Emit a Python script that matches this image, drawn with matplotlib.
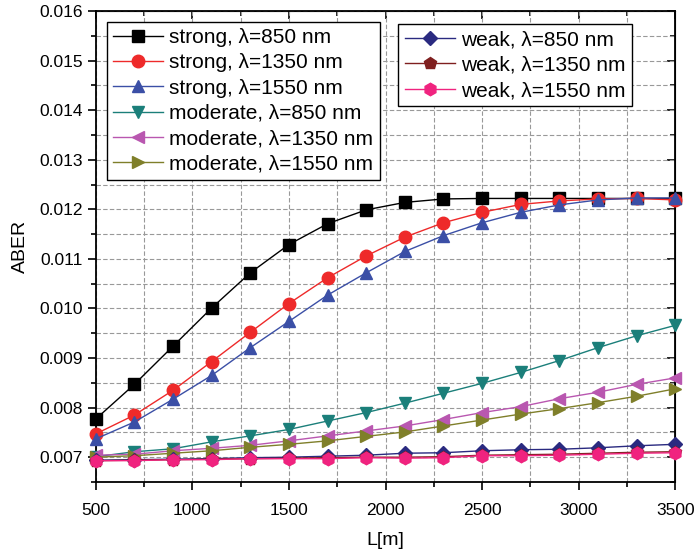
import matplotlib
matplotlib.use('Agg')
import matplotlib.pyplot as plt
import numpy as np

plt.rcParams['font.family'] = ['Liberation Sans', 'DejaVu Sans']

# Data
L = [500, 700, 900, 1100, 1300, 1500, 1700, 1900, 2100, 2300, 2500, 2700, 2900, 3100, 3300, 3500]

strong_850 = [0.00777, 0.00847, 0.00924, 0.01001, 0.01072, 0.01129, 0.01171, 0.01199,
              0.01214, 0.01221, 0.01222, 0.01222, 0.01222, 0.01222, 0.01222, 0.01222]
strong_1350 = [0.00747, 0.00785, 0.00835, 0.00893, 0.00952, 0.01010, 0.01062, 0.01106,
               0.01144, 0.01173, 0.01194, 0.01210, 0.01217, 0.01221, 0.01222, 0.01219]
strong_1550 = [0.00737, 0.00771, 0.00817, 0.00865, 0.00921, 0.00974, 0.01027, 0.01072,
               0.01115, 0.01147, 0.01173, 0.01194, 0.01209, 0.01219, 0.01223, 0.01223]
moderate_850 = [0.00701, 0.00711, 0.00717, 0.00731, 0.00743, 0.00756, 0.00773, 0.00790,
                0.00809, 0.00829, 0.00849, 0.00871, 0.00895, 0.00921, 0.00945, 0.00966]
moderate_1350 = [0.00704, 0.00706, 0.00713, 0.00718, 0.00724, 0.00733, 0.00743, 0.00753,
                 0.00763, 0.00776, 0.00790, 0.00802, 0.00818, 0.00831, 0.00847, 0.00860]
moderate_1550 = [0.00700, 0.00703, 0.00708, 0.00713, 0.00720, 0.00726, 0.00733, 0.00742,
                 0.00751, 0.00763, 0.00775, 0.00787, 0.00798, 0.00810, 0.00823, 0.00838]
weak_850 = [0.00694, 0.00695, 0.00696, 0.00697, 0.00699, 0.00700, 0.00702, 0.00704,
            0.00708, 0.00709, 0.00713, 0.00715, 0.00716, 0.00719, 0.00723, 0.00726]
weak_1350 = [0.00693, 0.00694, 0.00695, 0.00696, 0.00697, 0.00698, 0.00699, 0.00700,
             0.00700, 0.00701, 0.00704, 0.00705, 0.00706, 0.00708, 0.00710, 0.00711]
weak_1550 = [0.00693, 0.00693, 0.00695, 0.00695, 0.00697, 0.00697, 0.00697, 0.00699,
             0.00698, 0.00699, 0.00703, 0.00703, 0.00704, 0.00706, 0.00708, 0.00709]

labels_left = ['strong, λ=850 nm', 'strong, λ=1350 nm', 'strong, λ=1550 nm',
               'moderate, λ=850 nm', 'moderate, λ=1350 nm', 'moderate, λ=1550 nm']
labels_right = ['weak, λ=850 nm', 'weak, λ=1350 nm', 'weak, λ=1550 nm']

fig = plt.figure(figsize=(6.94, 5.54), dpi=100)
ax = fig.add_axes([0.138, 0.130, 0.835, 0.850])

series_left = [
    (strong_850, 's', '#000000'),
    (strong_1350, 'o', '#ee2a2a'),
    (strong_1550, '^', '#3b4fa6'),
    (moderate_850, 'v', '#1b7f7a'),
    (moderate_1350, '<', '#b957b0'),
    (moderate_1550, '>', '#7f7f2a'),
]
series_right = [
    (weak_850, 'D', '#2a2a80'),
    (weak_1350, 'p', '#7f1f1f'),
    (weak_1550, 'h', '#f0237f'),
]

h_left = []
for (y, m, c), lab in zip(series_left, labels_left):
    ms = 8 if m in ('s', 'D') else 9
    h, = ax.plot(L, y, marker=m, color=c, lw=1.0, ms=ms, label=lab, clip_on=False, zorder=3)
    h_left.append(h)
h_right = []
for (y, m, c), lab in zip(series_right, labels_right):
    ms = 7 if m == 'D' else 9
    h, = ax.plot(L, y, marker=m, color=c, lw=1.0, ms=ms, label=lab, clip_on=False, zorder=3)
    h_right.append(h)

ax.set_xlim(500, 3500)
ax.set_ylim(0.0065, 0.016)
ax.set_xticks(np.arange(500, 3501, 500))
ax.set_xticks(np.arange(750, 3500, 500), minor=True)
ax.set_yticks(np.arange(0.007, 0.01601, 0.001))
ax.set_yticks(np.arange(0.0065, 0.0160, 0.001), minor=True)
ax.set_yticklabels(['%.3f' % v for v in np.arange(0.007, 0.01601, 0.001)])

ax.grid(True, which='both', linestyle=(0, (4, 2)), color='#999999', lw=0.8)
ax.tick_params(which='both', direction='out', labelsize=12.5, width=1.2)
ax.tick_params(which='major', length=6)
ax.tick_params(which='minor', length=3.5)
ax.tick_params(axis='x', which='major', pad=9)
for s in ax.spines.values():
    s.set_linewidth(1.3)

top = ax.secondary_xaxis('top')
top.set_xticks(np.arange(500, 3501, 500))
top.set_xticks(np.arange(750, 3500, 500), minor=True)
top.tick_params(which='both', direction='in', labeltop=False, width=1.2)
top.tick_params(which='major', length=6)
top.tick_params(which='minor', length=3.5)
right = ax.secondary_yaxis('right')
right.set_yticks(np.arange(0.007, 0.01601, 0.001))
right.set_yticks(np.arange(0.0065, 0.0160, 0.001), minor=True)
right.tick_params(which='both', direction='in', labelright=False, width=1.2)
right.tick_params(which='major', length=6)
right.tick_params(which='minor', length=3.5)

ax.set_xlabel('L[m]', fontsize=14, labelpad=10)
ax.set_ylabel('ABER', fontsize=14, labelpad=7)

leg_kw = dict(loc='upper left', fontsize=15, handlelength=2.4, handletextpad=0.3,
              labelspacing=0.3, borderpad=0.3, borderaxespad=0, fancybox=False,
              framealpha=1, edgecolor='black')
leg1 = ax.legend(handles=h_left, bbox_to_anchor=(0.019, 0.977), **leg_kw)
leg1.get_frame().set_linewidth(1.0)
ax.add_artist(leg1)
leg2 = ax.legend(handles=h_right, bbox_to_anchor=(0.522, 0.972), **leg_kw)
leg2.get_frame().set_linewidth(1.0)

fig.savefig('out.png', dpi=100)
